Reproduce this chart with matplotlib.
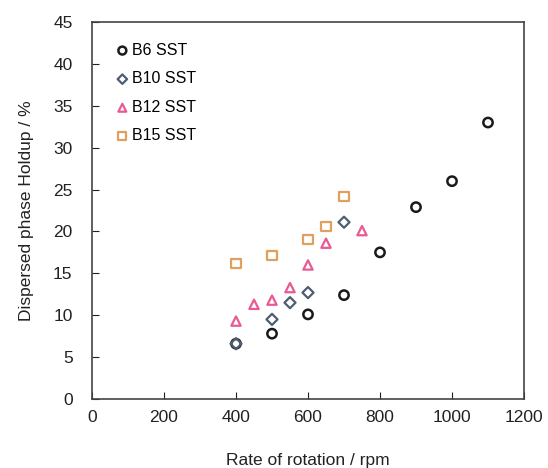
import matplotlib.pyplot as plt

plt.rcParams['font.family'] = ['Liberation Sans', 'DejaVu Sans']

b6_x = [400, 500, 600, 700, 800, 900, 1000, 1100]
b6_y = [6.6, 7.8, 10.1, 12.4, 17.5, 22.9, 26.0, 33.0]
b10_x = [400, 500, 550, 600, 700]
b10_y = [6.6, 9.5, 11.5, 12.7, 21.1]
b12_x = [400, 450, 500, 550, 600, 650, 750]
b12_y = [9.3, 11.3, 11.8, 13.3, 16.0, 18.6, 20.1]
b15_x = [400, 500, 600, 650, 700]
b15_y = [16.2, 17.1, 19.0, 20.6, 24.2]

fig = plt.figure(figsize=(5.48, 4.68), dpi=100)
ax = fig.add_axes([92/548, 1 - 399/468, (524-92)/548, (399-22)/468])

ax.scatter(b6_x, b6_y, marker='o', s=45, facecolors='none', edgecolors='#1a1a1a', linewidths=1.8, label='B6 SST', zorder=3)
ax.scatter(b10_x, b10_y, marker='D', s=32, facecolors='none', edgecolors='#4f5d73', linewidths=1.6, label='B10 SST', zorder=3)
ax.scatter(b12_x, b12_y, marker='^', s=45, facecolors='none', edgecolors='#e85a94', linewidths=1.6, label='B12 SST', zorder=3)
ax.scatter(b15_x, b15_y, marker='s', s=45, facecolors='none', edgecolors='#e0a060', linewidths=1.6, label='B15 SST', zorder=3)

ax.set_xlim(0, 1200)
ax.set_ylim(0, 45)
ax.set_xticks(range(0, 1201, 200))
ax.set_yticks(range(0, 46, 5))
ax.tick_params(direction='in', labelsize=12.5, length=5, colors='#222222')
ax.tick_params(axis='x', pad=8)
ax.tick_params(axis='y', pad=14)
for sp in ax.spines.values():
    sp.set_color('#444444')
    sp.set_linewidth(1.2)

ax.set_xlabel('Rate of rotation / rpm', fontsize=12.5, labelpad=20, color='#222222')
ax.set_ylabel('Dispersed phase Holdup / %', fontsize=12.5, labelpad=14, color='#222222')

ax.legend(loc='upper left', frameon=False, fontsize=11.5, handletextpad=0.0,
          labelspacing=0.85, borderaxespad=0.9, scatterpoints=1, handlelength=1.2,
          markerscale=0.85)

fig.savefig('out.png', dpi=100)
